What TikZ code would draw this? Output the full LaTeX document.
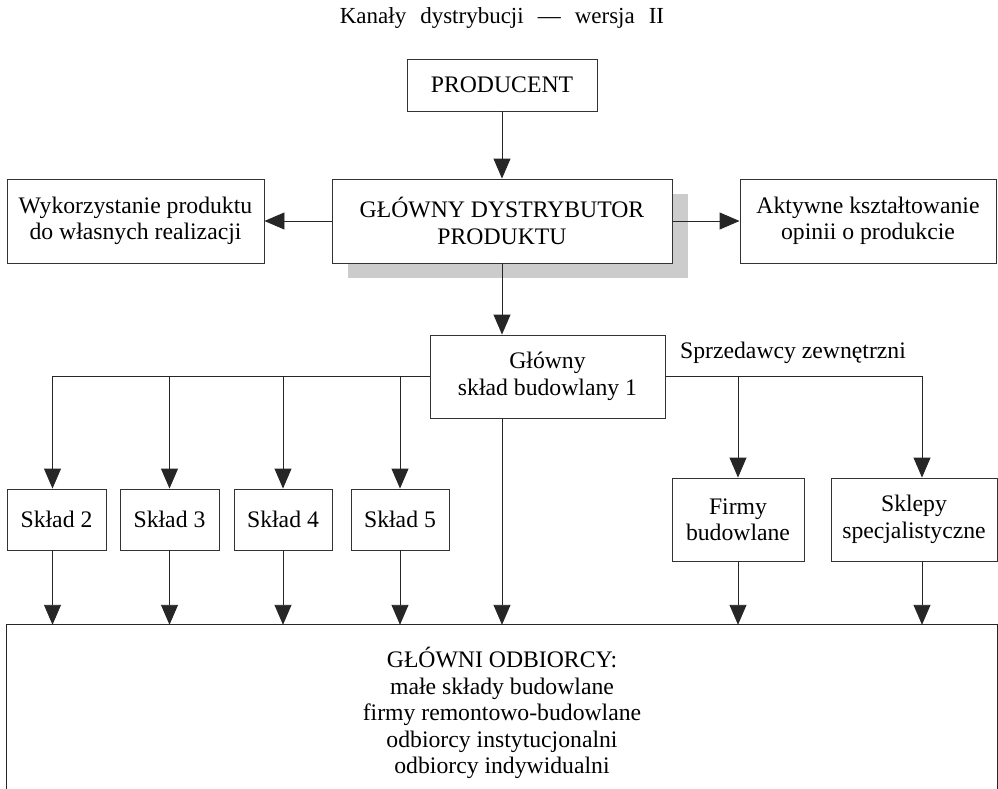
\documentclass[tikz,border=0pt]{standalone}
\usepackage{fontspec}
\setmainfont{Liberation Serif}
\usetikzlibrary{arrows.meta,shadows}
\begin{document}
\begin{tikzpicture}[x=1pt,y=-1pt,
  txt/.style={font=\fontsize{23.7}{26.4}\selectfont},
  box/.style={txt,draw=black!80,line width=0.9pt,fill=white,align=center,inner sep=0pt},
  arr/.style={draw=black!85,line width=0.9pt,-{Triangle[length=20pt,width=17pt]}},
  ln/.style={draw=black!85,line width=0.9pt}]
\useasboundingbox (0,0) rectangle (998,789);
% title
\node[txt,font=\fontsize{23}{26}\selectfont] (title) at (502,18)
  {Kanały\hspace{14pt}dystrybucji\hspace{14pt}—\hspace{14pt}wersja\hspace{14pt}II};
% top part
\node[box,minimum width=190pt,minimum height=52pt] (prod) at (502,85) {PRODUCENT};
\node[box,minimum width=340pt,minimum height=84pt,
  drop shadow={shadow xshift=16pt,shadow yshift=-15pt,fill=black!20,opacity=1}]
  (dist) at (502,221) {GŁÓWNY DYSTRYBUTOR\\PRODUKTU};
\node[box,minimum width=257pt,minimum height=84pt] (lft) at (135.5,221)
  {Wykorzystanie produktu\\do własnych realizacji};
\node[box,minimum width=256pt,minimum height=84pt] (rgt) at (868,221)
  {Aktywne kształtowanie\\opinii o produkcie};
\node[box,minimum width=235pt,minimum height=83pt] (glsk) at (547.5,376.5)
  {Główny\\skład budowlany 1};
\node[txt] (sprz) at (793,353) {Sprzedawcy zewnętrzni};
% middle row
\node[box,minimum width=99pt,minimum height=61pt] (s2) at (56.5,519.5) {Skład 2};
\node[box,minimum width=99pt,minimum height=61pt] (s3) at (169.5,519.5) {Skład 3};
\node[box,minimum width=98pt,minimum height=61pt] (s4) at (283,519.5) {Skład 4};
\node[box,minimum width=98pt,minimum height=61pt] (s5) at (400,519.5) {Skład 5};
\node[box,minimum width=132pt,minimum height=83pt] (firmy) at (738,519.5) {Firmy\\budowlane};
\node[box,minimum width=166pt,minimum height=83pt] (sklepy) at (914,519.5) {Sklepy\\specjalistyczne};
% bottom box (its lower edge lies below the picture)
\node[txt,align=center,minimum width=990pt,minimum height=176pt,inner sep=0pt] (odb) at (502,713)
  {GŁÓWNI ODBIORCY:\\małe składy budowlane\\firmy remontowo-budowlane\\odbiorcy instytucjonalni\\odbiorcy indywidualni};
\draw[ln] (odb.south west) -- (odb.north west) -- (odb.north east) -- (odb.south east);
% connectors top
\draw[arr] (prod.south) -- (dist.north);
\draw[arr] (dist.west) -- (lft.east);
\draw[arr] (dist.east) -- (rgt.west);
\draw[arr] (dist.south) -- (dist.south |- glsk.north);
% left branches
\coordinate (c2) at ([xshift=-4pt]s2.north);
\draw[arr] (glsk.west) -| (c2);
\draw[arr] (s3.north |- glsk.west) -- (s3.north);
\draw[arr] (s4.north |- glsk.west) -- (s4.north);
\draw[arr] (s5.north |- glsk.west) -- (s5.north);
% right branches
\coordinate (ck) at ([xshift=8pt]sklepy.north);
\draw[arr] (glsk.east) -| (ck);
\draw[arr] (firmy.north |- glsk.east) -- (firmy.north);
% to the bottom box
\draw[arr] ([xshift=-4pt]s2.south) -- ([xshift=-4pt]s2.south |- odb.north);
\draw[arr] (s3.south) -- (s3.south |- odb.north);
\draw[arr] (s4.south) -- (s4.south |- odb.north);
\draw[arr] (s5.south) -- (s5.south |- odb.north);
\draw[arr] (dist.south |- glsk.south) -- (dist.south |- odb.north);
\draw[arr] (firmy.south) -- (firmy.south |- odb.north);
\draw[arr] ([xshift=8pt]sklepy.south) -- ([xshift=8pt]sklepy.south |- odb.north);
\end{tikzpicture}
\end{document}
